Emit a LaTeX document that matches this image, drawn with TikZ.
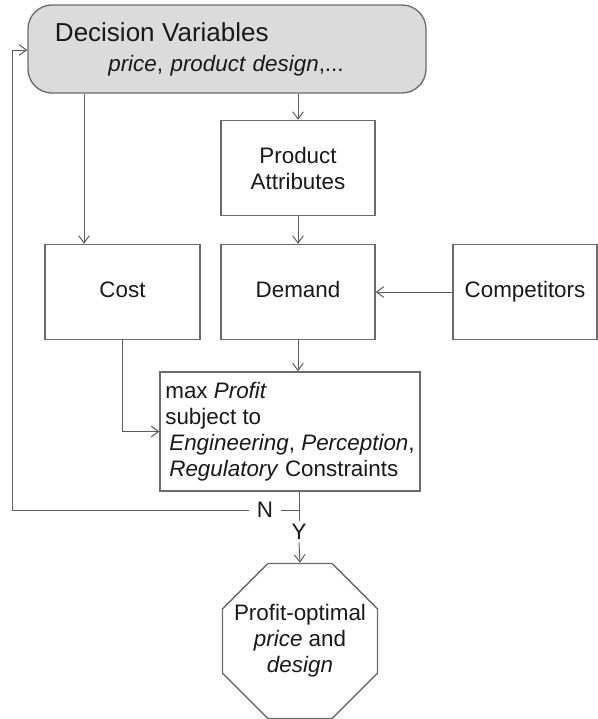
\documentclass[tikz,border=0pt]{standalone}
\usepackage{fontspec}
\setmainfont{Liberation Sans}
\usetikzlibrary{arrows.meta,shapes.geometric}

\definecolor{boxline}{gray}{0.42}
\definecolor{flowline}{gray}{0.36}
\definecolor{dvfill}{gray}{0.86}
\definecolor{ink}{gray}{0.1}

\newcommand{\bodyfont}{\fontsize{16.8}{19.5}\selectfont}

\tikzset{
  block/.style={draw=boxline, line width=1pt, text=ink, inner sep=0pt,
    minimum height=71.25pt, align=center, font=\bodyfont},
  oneline/.style={text height=12pt, text depth=3.5pt},
  flow/.style={draw=flowline, line width=0.75pt, -{Straight Barb[length=5.5pt,width=8pt]}},
  link/.style={draw=flowline, line width=0.75pt},
  answer/.style={text=ink, font=\bodyfont, inner ysep=2pt, inner xsep=6pt},
}

\begin{document}
\begin{tikzpicture}[x=0.75pt, y=-0.75pt]
  \useasboundingbox (0,0) rectangle (598,719);

  % boxes
  \node[block, rounded corners=18pt, fill=dvfill, minimum width=298.5pt, minimum height=66pt,
    text width=258pt, inner xsep=20.25pt, align=left] (dv) at (227,49)
    {{\fontsize{19.5}{22.5}\selectfont Decision Variables}\\[3pt]\hspace*{40pt}\textit{price}, \textit{product design},...};
  \node[block, minimum width=115.5pt] (attr) at (298,168) {Product\\Attributes};
  \node[block, oneline, minimum width=116.25pt] (cost) at (122.5,292) {Cost};
  \node[block, oneline, minimum width=115.5pt] (demand) at (298,292) {Demand};
  \node[block, oneline, minimum width=108pt] (comp) at (525,292) {Competitors};
  \node[block, minimum width=195pt, minimum height=89.25pt, align=left] (profit) at (290,431.5)
    {max \textit{Profit}\\subject to\\\hspace*{3pt}\textit{Engineering}, \textit{Perception},\\\hspace*{3pt}\textit{Regulatory} Constraints};
  \node[block, regular polygon, regular polygon sides=8, inner sep=-20pt, minimum size=125.8pt] (opt) at (300,641)
    {Profit-optimal\\\textit{price} and\\\textit{design}};
  \node[answer] (no) at (265,510) {N};
  \node[answer] (yes) at (299,532) {Y};
  \coordinate (tocost) at (84,0);
  \coordinate (back) at (12,50);

  % connectors
  \draw[flow] (dv.south -| attr.north) -- (attr.north);
  \draw[flow] (dv.south -| tocost) -- (cost.north -| tocost);
  \draw[flow] (attr.south) -- (demand.north);
  \draw[flow] (comp.west) -- (demand.east);
  \draw[flow] (demand.south) -- (demand.south |- profit.north);
  \draw[flow] (cost.south) |- (profit.west);
  \draw[link] (profit.south -| yes) -- (yes.north);
  \draw[link] (no.east) -- (no.east -| yes);
  \draw[flow] (no.west) -| (back) -- (back -| dv.west);
  \draw[flow] (yes.south) -- (opt.north);
\end{tikzpicture}
\end{document}
